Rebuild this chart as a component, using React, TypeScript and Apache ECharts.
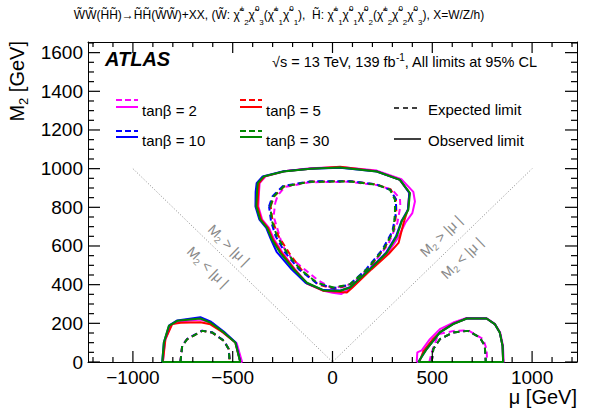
import React, { useEffect, useRef } from 'react';
import * as echarts from 'echarts';

type Pt = [number, number];

const X_MIN = -1225;
const X_MAX = 1225;
const Y_MIN = 0;
const Y_MAX = 1655;

const xMajorTicks = [-1000, -500, 0, 500, 1000];
const xMinorTicks = [-1200, -1100, -900, -800, -700, -600, -400, -300, -200, -100, 100, 200, 300, 400, 600, 700, 800, 900, 1100, 1200];
const yMajorTicks = [0, 200, 400, 600, 800, 1000, 1200, 1400, 1600];
const yMinorTicks = [50, 100, 150, 250, 300, 350, 450, 500, 550, 650, 700, 750, 850, 900, 950, 1050, 1100, 1150, 1250, 1300, 1350, 1450, 1500, 1550, 1650];

const diagonal: Pt[] = [[-1000, 1000], [0, 0], [1000, 1000]];

const tanbLabels = ['tanβ = 2', 'tanβ = 5', 'tanβ = 10', 'tanβ = 30'];
const tanbColors = ['#ff00ff', '#ff0000', '#0000ff', '#008800'];

// ---- central island, observed ----
const obsCentral2: Pt[] = [[-368, 882], [-365, 925], [-335, 960], [-240, 986], [-111, 1002], [38, 1008], [222, 990], [345, 946], [405, 880], [413, 830], [400, 770], [365, 720], [330, 645], [278, 565], [192, 479], [95, 385], [45, 352], [0, 358], [-50, 370], [-125, 405], [-188, 479], [-250, 565], [-292, 633], [-318, 694], [-352, 736], [-372, 805], [-368, 882]];
const obsCentral5: Pt[] = [[-372, 880], [-368, 925], [-340, 960], [-245, 986], [-111, 1000], [38, 1010], [222, 986], [335, 944], [385, 876], [378, 790], [356, 719], [331, 616], [282, 560], [195, 479], [100, 385], [72, 359], [40, 362], [-45, 368], [-128, 405], [-190, 479], [-255, 565], [-298, 633], [-323, 694], [-357, 736], [-376, 805], [-372, 880]];
const obsCentral10: Pt[] = [[-385, 880], [-380, 925], [-350, 960], [-245, 987], [-111, 1000], [38, 1005], [222, 985], [338, 942], [385, 874], [378, 788], [345, 728], [318, 650], [268, 565], [185, 479], [90, 388], [40, 370], [-45, 372], [-135, 410], [-205, 479], [-280, 570], [-308, 633], [-332, 694], [-366, 736], [-386, 805], [-385, 880]];
const obsCentral30: Pt[] = [[-378, 882], [-375, 925], [-345, 959], [-245, 985], [-111, 999], [38, 1006], [222, 985], [338, 942], [388, 874], [380, 788], [347, 728], [322, 650], [272, 565], [188, 479], [88, 385], [38, 367], [-45, 370], [-128, 410], [-195, 479], [-262, 565], [-303, 633], [-328, 694], [-362, 736], [-382, 805], [-378, 882]];

// ---- central island, expected ----
const expCentral2: Pt[] = [[-287, 822], [-275, 860], [-240, 905], [-112, 930], [88, 932], [222, 915], [300, 890], [338, 845], [340, 805], [325, 720], [280, 610], [190, 490], [100, 405], [20, 385], [-10, 385], [-75, 425], [-140, 479], [-200, 530], [-250, 600], [-270, 668], [-295, 753], [-287, 822]];
const expCentral5: Pt[] = [[-310, 805], [-293, 856], [-243, 908], [-112, 933], [88, 935], [222, 918], [292, 892], [318, 840], [320, 771], [308, 690], [262, 590], [178, 480], [92, 400], [10, 378], [-70, 400], [-150, 470], [-215, 560], [-270, 650], [-300, 728], [-310, 805]];
const expCentral10: Pt[] = [[-318, 805], [-300, 858], [-248, 910], [-112, 934], [88, 935], [222, 918], [290, 890], [318, 840], [318, 772], [300, 676], [250, 582], [168, 479], [85, 400], [5, 382], [-80, 408], [-168, 479], [-240, 570], [-285, 650], [-308, 728], [-318, 805]];
const expCentral30: Pt[] = [[-312, 805], [-295, 856], [-245, 908], [-112, 932], [88, 934], [222, 917], [288, 891], [313, 839], [313, 771], [305, 676], [255, 582], [172, 479], [88, 402], [5, 385], [-78, 410], [-162, 479], [-228, 565], [-278, 650], [-303, 728], [-312, 805]];

// ---- left island (mu < 0) ----
const obsLeft2: Pt[] = [[-850, 0], [-840, 110], [-808, 193], [-770, 208], [-662, 220], [-600, 200], [-540, 145], [-480, 97], [-453, 0], [-850, 0]];
const obsLeft5: Pt[] = [[-850, 0], [-837, 118], [-803, 196], [-760, 203], [-662, 206], [-612, 195], [-545, 150], [-487, 101], [-462, 0], [-850, 0]];
const obsLeft10: Pt[] = [[-853, 0], [-845, 101], [-818, 190], [-778, 215], [-662, 232], [-612, 210], [-545, 158], [-485, 101], [-462, 0], [-853, 0]];
const obsLeft30: Pt[] = [[-853, 0], [-845, 101], [-820, 187], [-778, 213], [-662, 225], [-612, 204], [-545, 153], [-487, 101], [-462, 0], [-853, 0]];
const expLeft2: Pt[] = [[-762, 0], [-753, 86], [-728, 120], [-653, 162], [-603, 153], [-545, 110], [-520, 67], [-515, 0]];
const expLeft5: Pt[] = [[-762, 0], [-753, 84], [-728, 118], [-653, 161], [-603, 152], [-545, 110], [-520, 67], [-515, 0]];
const expLeft10: Pt[] = [[-762, 0], [-753, 85], [-728, 119], [-653, 162], [-603, 153], [-545, 111], [-520, 67], [-515, 0]];
const expLeft30: Pt[] = [[-762, 0], [-753, 84], [-728, 118], [-653, 161], [-603, 153], [-545, 110], [-520, 67], [-515, 0]];

// ---- right island (mu > 0) ----
const obsRight2: Pt[] = [[422, 0], [425, 50], [447, 60], [488, 118], [538, 170], [605, 204], [672, 228], [772, 226], [813, 197], [840, 153], [854, 84], [858, 0], [422, 0]];
const obsRight5: Pt[] = [[435, 0], [455, 55], [500, 115], [545, 160], [605, 198], [672, 225], [772, 225], [813, 196], [838, 153], [852, 84], [855, 0], [435, 0]];
const obsRight10: Pt[] = [[430, 0], [472, 67], [538, 153], [605, 197], [672, 225], [772, 225], [813, 196], [838, 153], [852, 84], [855, 0], [430, 0]];
const obsRight30: Pt[] = [[430, 0], [472, 67], [538, 153], [605, 196], [672, 225], [772, 225], [813, 196], [838, 153], [852, 84], [855, 0], [430, 0]];
const expRight2: Pt[] = [[485, 0], [497, 50], [530, 144], [610, 161], [680, 164], [755, 118], [772, 67], [775, 0]];
const expRight5: Pt[] = [[497, 0], [505, 67], [538, 118], [605, 153], [680, 161], [738, 127], [763, 84], [768, 0]];
const expRight10: Pt[] = [[497, 0], [505, 67], [538, 118], [605, 153], [680, 161], [738, 127], [763, 84], [768, 0]];
const expRight30: Pt[] = [[497, 0], [505, 67], [538, 118], [605, 153], [680, 161], [738, 127], [763, 84], [768, 0]];

const observed: Pt[][][] = [
  [obsCentral2, obsLeft2, obsRight2],
  [obsCentral5, obsLeft5, obsRight5],
  [obsCentral10, obsLeft10, obsRight10],
  [obsCentral30, obsLeft30, obsRight30],
];
const expected: Pt[][][] = [
  [expCentral2, expLeft2, expRight2],
  [expCentral5, expLeft5, expRight5],
  [expCentral10, expLeft10, expRight10],
  [expCentral30, expLeft30, expRight30],
];

const FONT = 'Liberation Sans, Arial, Helvetica, sans-serif';
const T = '\u0303';
const W = 'W' + T;
const H = 'H' + T;
const CHI = '\u03C7' + T;

function buildTitle(): string {
  const m = (s: string) => `{m|${s}}`;
  const chi = (sup: string, sub: string) => `{m|${CHI}}{p|${sup}}{b|${sub}}`;
  return (
    m(`${W}${W}(${H}${H})\u2192${H}${H}(${W}${W})+XX, (${W}: `) +
    chi('±', '2') + chi('0', '3') + m('(') + chi('±', '1') + chi('0', '1') +
    m(`),  ${H}: `) +
    chi('±', '1') + chi('0', '1') + chi('0', '2') + m('(') + chi('±', '2') + chi('0', '2') + chi('0', '3') +
    m('), X=W/Z/h)')
  );
}

function contourSeries(data: Pt[], color: string, dashed: boolean, z: number) {
  return {
    type: 'line',
    data,
    xAxisIndex: 0,
    yAxisIndex: 0,
    showSymbol: false,
    symbol: 'none',
    silent: true,
    z,
    lineStyle: { color, width: 2, type: dashed ? [6, 4] : 'solid' },
  };
}

const fmtX = (v: number) => (v < 0 ? '\u2212' + Math.abs(v) : String(v));
const fmtY = (v: number) => String(v);

export default function App() {
  const ref = useRef<HTMLDivElement>(null);
  useEffect(() => {
    if (!ref.current) return;
    const chart = echarts.init(ref.current, undefined, { renderer: 'svg' });

    const series: any[] = [];
    series.push({
      type: 'line',
      data: diagonal,
      xAxisIndex: 0,
      yAxisIndex: 0,
      showSymbol: false,
      symbol: 'none',
      silent: true,
      z: 1,
      lineStyle: { color: '#888888', width: 1, type: [1, 2] },
    });
    for (let i = 0; i < 4; i++) {
      for (const d of expected[i]) series.push(contourSeries(d, tanbColors[i], true, 2 + i));
      for (const d of observed[i]) series.push(contourSeries(d, tanbColors[i], false, 2 + i));
    }

    const frameLine = { show: true, onZero: false, lineStyle: { color: '#000', width: 1 } };
    const noTick = { show: false };

    const graphics: any[] = [];
    graphics.push({
      type: 'text',
      x: 279,
      y: 15,
      style: {
        text: buildTitle(),
        align: 'center',
        verticalAlign: 'middle',
        fill: '#000',
        rich: {
          m: { fontSize: 12, fontFamily: FONT, lineHeight: 22, verticalAlign: 'middle', fill: '#000' },
          p: { fontSize: 8, fontFamily: FONT, lineHeight: 10, verticalAlign: 'top', fill: '#000' },
          b: { fontSize: 8, fontFamily: FONT, lineHeight: 10, verticalAlign: 'bottom', fill: '#000' },
        },
      },
    });
    graphics.push({
      type: 'text',
      x: 105,
      y: 59,
      style: {
        text: 'ATLAS',
        fontSize: 20,
        fontWeight: 'bold',
        fontStyle: 'italic',
        fontFamily: FONT,
        fill: '#000',
        align: 'left',
        verticalAlign: 'middle',
      },
    });
    graphics.push({
      type: 'text',
      x: 272,
      y: 62,
      style: {
        text: '{m|\u221As = 13 TeV, 139 fb}{p|-1}{m|, All limits at 95% CL}',
        align: 'left',
        verticalAlign: 'middle',
        rich: {
          m: { fontSize: 14.5, fontFamily: FONT, lineHeight: 20, verticalAlign: 'middle', fill: '#000' },
          p: { fontSize: 10, fontFamily: FONT, lineHeight: 10, verticalAlign: 'top', fill: '#000' },
        },
      },
    });
    const legendCols = [116, 240];
    const legendRowsDash = [100, 131];
    const legendRowsSolid = [107, 137];
    const legendRowsText = [110, 140];
    for (let i = 0; i < 4; i++) {
      const col = i % 2;
      const row = Math.floor(i / 2);
      const x0 = legendCols[col];
      graphics.push({
        type: 'line',
        shape: { x1: x0, y1: legendRowsDash[row], x2: x0 + 22, y2: legendRowsDash[row] },
        style: { stroke: tanbColors[i], lineWidth: 2, lineDash: [6, 3] },
      });
      graphics.push({
        type: 'line',
        shape: { x1: x0, y1: legendRowsSolid[row], x2: x0 + 22, y2: legendRowsSolid[row] },
        style: { stroke: tanbColors[i], lineWidth: 2 },
      });
      graphics.push({
        type: 'text',
        x: x0 + 26,
        y: legendRowsText[row],
        style: {
          text: tanbLabels[i],
          fontSize: 15,
          fontFamily: FONT,
          fill: '#000',
          align: 'left',
          verticalAlign: 'middle',
        },
      });
    }
    graphics.push({
      type: 'line',
      shape: { x1: 394, y1: 108, x2: 421, y2: 108 },
      style: { stroke: '#000', lineWidth: 1.5, lineDash: [5, 4] },
    });
    graphics.push({
      type: 'line',
      shape: { x1: 394, y1: 139, x2: 421, y2: 139 },
      style: { stroke: '#000', lineWidth: 1.5 },
    });
    graphics.push({
      type: 'text', x: 428, y: 109,
      style: { text: 'Expected limit', fontSize: 15, fontFamily: FONT, fill: '#000', align: 'left', verticalAlign: 'middle' },
    });
    graphics.push({
      type: 'text', x: 428, y: 140,
      style: { text: 'Observed limit', fontSize: 15, fontFamily: FONT, fill: '#000', align: 'left', verticalAlign: 'middle' },
    });
    graphics.push({
      type: 'text', x: 577, y: 397,
      style: { text: '\u03BC [GeV]', fontSize: 20, fontFamily: FONT, fill: '#000', align: 'right', verticalAlign: 'middle' },
    });
    graphics.push({
      type: 'text', x: 17, y: 41, rotation: Math.PI / 2,
      style: {
        text: '{m|M}{b|2}{m| [GeV]}',
        align: 'right',
        verticalAlign: 'middle',
        rich: {
          m: { fontSize: 20, fontFamily: FONT, lineHeight: 26, verticalAlign: 'middle', fill: '#000' },
          b: { fontSize: 13, fontFamily: FONT, lineHeight: 14, verticalAlign: 'bottom', fill: '#000' },
        },
      },
    });
    const diagRich = {
      g: { fontSize: 14, fontFamily: FONT, lineHeight: 18, verticalAlign: 'middle', fill: '#888888' },
      s: { fontSize: 9, fontFamily: FONT, lineHeight: 10, verticalAlign: 'bottom', fill: '#888888' },
    };
    const diagLabels: [number, number, number, string][] = [
      [229, 245, -0.77, '{g|M}{s|2}{g| > |\u03BC |}'],
      [208, 267, -0.77, '{g|M}{s|2}{g| < |\u03BC |}'],
      [441, 236, 0.77, '{g|M}{s|2}{g| > |\u03BC |}'],
      [462, 258, 0.77, '{g|M}{s|2}{g| < |\u03BC |}'],
    ];
    for (const [x, y, r, t] of diagLabels) {
      graphics.push({
        type: 'text', x, y, rotation: r,
        style: { text: t, align: 'center', verticalAlign: 'middle', rich: diagRich },
      });
    }

    chart.setOption({
      animation: false,
      backgroundColor: '#ffffff',
      grid: { left: 88, top: 42, width: 489, height: 320 },
      xAxis: [
        {
          type: 'value',
          min: X_MIN,
          max: X_MAX,
          position: 'bottom',
          splitLine: { show: false },
          axisLine: frameLine,
          axisTick: noTick,
          axisLabel: {
            show: true, customValues: xMajorTicks, formatter: fmtX, fontSize: 19, fontFamily: FONT, color: '#000', margin: 6,
          },
        },
        {
          type: 'value',
          min: X_MIN,
          max: X_MAX,
          position: 'top',
          splitLine: { show: false },
          axisLine: frameLine,
          axisTick: noTick,
          axisLabel: { show: false },
        },
      ],
      yAxis: [
        {
          type: 'value',
          min: Y_MIN,
          max: Y_MAX,
          position: 'left',
          splitLine: { show: false },
          axisLine: frameLine,
          axisTick: noTick,
          axisLabel: { show: true, customValues: yMajorTicks, formatter: fmtY, fontSize: 19, fontFamily: FONT, color: '#000', margin: 5 },
        },
        {
          type: 'value',
          min: Y_MIN,
          max: Y_MAX,
          position: 'right',
          splitLine: { show: false },
          axisLine: frameLine,
          axisTick: noTick,
          axisLabel: { show: false },
        },
      ],
      series,
      graphic: graphics,
    });

    // tick marks on all four frame sides, placed through the chart's own scales
    const tickEls: any[] = [];
    const st = { stroke: '#000000', lineWidth: 1.2 };
    const addX = (v: number, len: number) => {
      const b = chart.convertToPixel({ gridIndex: 0 }, [v, Y_MIN]) as number[];
      const t = chart.convertToPixel({ gridIndex: 0 }, [v, Y_MAX]) as number[];
      tickEls.push({ type: 'line', z: 50, shape: { x1: b[0], y1: b[1], x2: b[0], y2: b[1] - len }, style: st });
      tickEls.push({ type: 'line', z: 50, shape: { x1: t[0], y1: t[1], x2: t[0], y2: t[1] + len }, style: st });
    };
    const addY = (v: number, len: number) => {
      const l = chart.convertToPixel({ gridIndex: 0 }, [X_MIN, v]) as number[];
      const r = chart.convertToPixel({ gridIndex: 0 }, [X_MAX, v]) as number[];
      tickEls.push({ type: 'line', z: 50, shape: { x1: l[0], y1: l[1], x2: l[0] + len, y2: l[1] }, style: st });
      tickEls.push({ type: 'line', z: 50, shape: { x1: r[0], y1: r[1], x2: r[0] - len, y2: r[1] }, style: st });
    };
    xMajorTicks.forEach((v) => addX(v, 11));
    xMinorTicks.forEach((v) => addX(v, 5));
    yMajorTicks.forEach((v) => addY(v, 12));
    yMinorTicks.forEach((v) => addY(v, 6));
    const ok = tickEls.every((e) => isFinite(e.shape.x1) && isFinite(e.shape.y1));
    if (ok) {
      chart.setOption({ graphic: [...graphics, ...tickEls] });
    }

    return () => chart.dispose();
  }, []);

  return (
    <div
      ref={ref}
      style={{ position: 'fixed', left: 0, top: 0, width: 594, height: 415, background: '#fff' }}
    />
  );
}
